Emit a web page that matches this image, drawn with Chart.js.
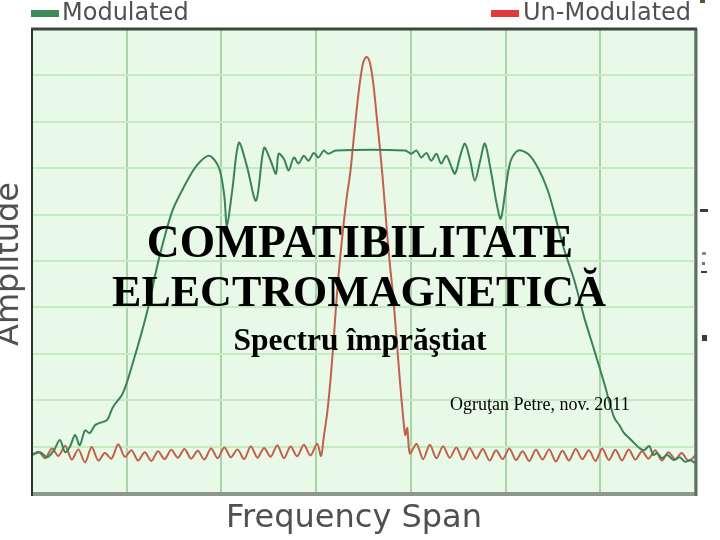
<!DOCTYPE html>
<html>
<head>
<meta charset="utf-8">
<script src="https://cdn.jsdelivr.net/npm/chart.js@4.4.1/dist/chart.umd.min.js"></script>
<style>
  html, body { margin: 0; padding: 0; background: #ffffff; }
  #wrap { position: relative; width: 720px; height: 540px; overflow: hidden; background: #ffffff; }
  canvas { position: absolute; left: 0; top: 0; }
  .lbl { position: absolute; white-space: nowrap; line-height: 1; }
  .sans { font-family: "DejaVu Sans", sans-serif; color: #505050; }
  .serif { font-family: "Liberation Serif", "Times New Roman", serif; color: #000; font-weight: bold; }
  .box { position: absolute; height: 7px; width: 28px; }
  .tick { position: absolute; background: #3c3c3c; }
</style>
</head>
<body>
<div id="wrap">
  <canvas id="c" width="720" height="540"></canvas>
  <div class="box" style="left:31px;top:10px;background:#3d8a5a;"></div>
  <div class="lbl sans" id="legMod" style="left:62px;top:0px;font-size:24px;"></div>
  <div class="box" style="left:491px;top:10px;background:#e23a3a;"></div>
  <div class="lbl sans" id="legUn" style="left:523px;top:0px;font-size:24px;"></div>
  <div class="lbl sans" id="xTitle" style="left:0;width:708px;text-align:center;top:500px;font-size:32px;"></div>
  <div class="lbl sans" id="yTitle" style="left:-93px;top:248px;width:200px;height:32px;line-height:32px;text-align:center;font-size:32px;transform:rotate(-90deg);"></div>
  <div class="lbl serif" id="t1" style="left:0;width:720px;text-align:center;top:219px;font-size:45.5px;"></div>
  <div class="lbl serif" id="t2" style="left:0;width:718px;text-align:center;top:270px;font-size:44px;"></div>
  <div class="lbl serif" id="t3" style="left:0;width:720px;text-align:center;top:324px;font-size:31.5px;"></div>
  <div class="lbl serif" id="t4" style="left:450px;top:395px;font-size:18px;font-weight:normal;"></div>
  <div class="tick" style="left:700px;top:209px;width:8px;height:3px;"></div>
  <div class="tick" style="left:702px;top:252px;width:4px;height:3px;background:#8a8a8a;"></div>
  <div class="tick" style="left:702px;top:262px;width:3px;height:3px;background:#777;"></div>
  <div class="tick" style="left:701px;top:271px;width:6px;height:2px;"></div>
  <div class="tick" style="left:702px;top:335px;width:5px;height:6px;"></div>
  <div class="tick" style="left:700px;top:0px;width:5px;height:3px;background:#4a5a30;"></div>
</div>
<script>
// ---- data ----
const seriesNames = ["Modulated", "Un-Modulated"];
const axisTitles = ["Frequency Span", "Amplitude"];
const overlayLines = ["COMPATIBILITATE", "ELECTROMAGNETICĂ", "Spectru împrăştiat", "Ogruţan Petre, nov. 2011"];

const modFreq = [0,1.2,2.3,3.3,4.2,5.0,5.7,6.5,7.2,8.0,8.7,9.5,10.2,11.3,12.2,13.7,15.2,17.3,19.2,21.2,23.0,24.8,26.7,28.2,29.0,29.4,30.2,31.2,32.4,33.8,35.0,36.0,36.8,37.2,38.0,38.7,39.5,40.2,41.0,41.7,42.5,43.2,44.0,44.7,45.8,56.3,57.2,58.0,58.7,59.5,60.2,61.0,61.7,62.5,63.2,63.8,64.6,65.3,66.1,66.8,67.6,68.3,69.2,70.0,70.7,71.5,72.2,73.3,74.8,76.3,77.8,79.3,80.3,81.8,83.3,84.8,86.3,87.8,88.6,89.3,90.1,90.8,91.6,92.3,93.1,93.7,94.3,95.0,95.8,96.8,97.7,98.5,99.2,100];
const modAmp = [8.2,8.8,7.7,9.2,11.4,8.8,9.9,12.5,10.3,13.5,12.9,14.6,15.1,15.7,18.5,21.5,28.0,38.7,50.8,60.9,66.2,70.5,72.7,70.1,64.1,57.6,65.2,75.5,70.5,63.0,74.4,71.6,68.8,73.1,72.0,69.5,72.3,71.0,72.7,71.6,73.3,72.3,73.8,73.1,73.8,73.8,73.1,73.8,72.3,73.3,71.6,73.1,71.0,72.7,70.5,68.8,72.7,75.3,71.6,67.3,71.6,75.3,69.5,63.0,59.1,66.2,71.6,73.8,73.1,70.1,65.2,57.6,52.3,45.8,37.8,30.8,23.7,16.3,14.6,12.9,11.8,10.8,9.7,9.2,10.1,8.2,8.6,7.5,8.2,7.1,7.7,6.7,7.1,6.5];

const unmodFreq = [0,1,2,3,4,5,6,7,8,9,10,11,12,13,14,15,16,17,18,19,20,21,22,23,24,25,26,27,28,29,30,31,32,33,34,35,36,37,38,39,40,41,42,43,
  43.6,44,44.5,45,45.5,46,46.5,47,47.5,48,48.5,49,49.5,50,50.5,51,51.5,52,52.5,53,53.5,54,54.5,55,55.5,56,56.3,56.6,57,
  58,59,60,61,62,63,64,65,66,67,68,69,70,71,72,73,74,75,76,77,78,79,80,81,82,83,84,85,86,87,88,89,90,91,92,93,94,95,96,97,98,99,100];
const unmodAmp = [8.2,8.9,7.5,9.6,8.0,10.2,7.2,9.4,6.6,9.9,7.0,8.6,7.4,10.5,7.8,9.2,7.0,8.8,6.9,9.0,7.3,9.3,7.6,9.5,7.4,9.1,7.2,9.6,7.5,9.8,7.7,9.4,7.3,10.1,7.6,9.7,7.8,10.3,7.5,10.0,7.9,10.4,8.1,10.6,
  8.0,12,17,24,33,43,51,58,64,69,76,83,89,93,94,92.5,88,81,74,66,57,49,42,33,24,16,12.5,14,8.5,
  10.6,7.3,10.4,7.5,10.1,7.6,9.8,7.2,9.7,7.4,9.5,7.0,9.2,7.3,9.6,7.1,9.0,6.9,9.3,7.2,9.4,6.8,9.1,7.0,9.5,7.3,9.2,6.9,9.6,7.1,9.3,7.0,9.4,7.2,9.0,7.4,9.2,7.0,8.8,7.3,8.6,6.9,8.0];

const xRange = [0, 100];
const yRange = [0, 100];
const xDivisions = 7;
const yDivisions = 10;

// ---- texts ----
document.getElementById('legMod').textContent = seriesNames[0];
document.getElementById('legUn').textContent = seriesNames[1];
document.getElementById('xTitle').textContent = axisTitles[0];
document.getElementById('yTitle').textContent = axisTitles[1];
['t1','t2','t3','t4'].forEach((id, i) => document.getElementById(id).textContent = overlayLines[i]);

// ---- chart ----
const frame = {
  id: 'frame',
  beforeDraw(chart) {
    const {ctx, chartArea: a} = chart;
    ctx.save();
    ctx.fillStyle = '#e8f9e8';
    ctx.fillRect(a.left, a.top, a.right - a.left, a.bottom - a.top);
    ctx.restore();
  },
  afterDatasetsDraw(chart) {
    const {ctx, chartArea: a} = chart;
    ctx.save();
    ctx.lineCap = 'butt';
    ctx.strokeStyle = '#8c988c'; ctx.lineWidth = 4;
    ctx.beginPath(); ctx.moveTo(a.left - 1, a.bottom + 1); ctx.lineTo(a.right + 1, a.bottom + 1); ctx.stroke();
    ctx.strokeStyle = '#5f6e62'; ctx.lineWidth = 3;
    ctx.beginPath(); ctx.moveTo(a.right + 1, a.top); ctx.lineTo(a.right + 1, a.bottom + 3); ctx.stroke();
    ctx.strokeStyle = '#3b463e'; ctx.lineWidth = 3;
    ctx.beginPath(); ctx.moveTo(a.left - 1, a.top); ctx.lineTo(a.right + 2, a.top); ctx.stroke();
    ctx.strokeStyle = '#233a2c'; ctx.lineWidth = 2;
    ctx.beginPath(); ctx.moveTo(a.left, a.top); ctx.lineTo(a.left, a.bottom + 3); ctx.stroke();
    ctx.restore();
  }
};

const toPts = (xs, ys) => xs.map((x, i) => ({x, y: ys[i]}));

new Chart(document.getElementById('c'), {
  type: 'line',
  data: {
    datasets: [
      { label: seriesNames[0], data: toPts(modFreq, modAmp), borderColor: '#3a8356', borderWidth: 2, pointRadius: 0, tension: 0.3, fill: false },
      { label: seriesNames[1], data: toPts(unmodFreq, unmodAmp), borderColor: '#c2604c', borderWidth: 2, pointRadius: 0, tension: 0.3, fill: false }
    ]
  },
  options: {
    responsive: false,
    animation: false,
    events: [],
    layout: { padding: { left: 32, right: 25, top: 29, bottom: 47 } },
    plugins: { legend: { display: false }, tooltip: { enabled: false }, title: { display: false } },
    scales: {
      x: {
        type: 'linear', min: xRange[0], max: xRange[1],
        ticks: { display: false, stepSize: (xRange[1] - xRange[0]) / xDivisions },
        grid: { color: '#a9d3a9', lineWidth: 2, drawTicks: false },
        border: { display: false }
      },
      y: {
        type: 'linear', min: yRange[0], max: yRange[1],
        ticks: { display: false, stepSize: (yRange[1] - yRange[0]) / yDivisions },
        grid: { color: '#c3ecc3', lineWidth: 2, drawTicks: false },
        border: { display: false }
      }
    }
  },
  plugins: [frame]
});
</script>
</body>
</html>
